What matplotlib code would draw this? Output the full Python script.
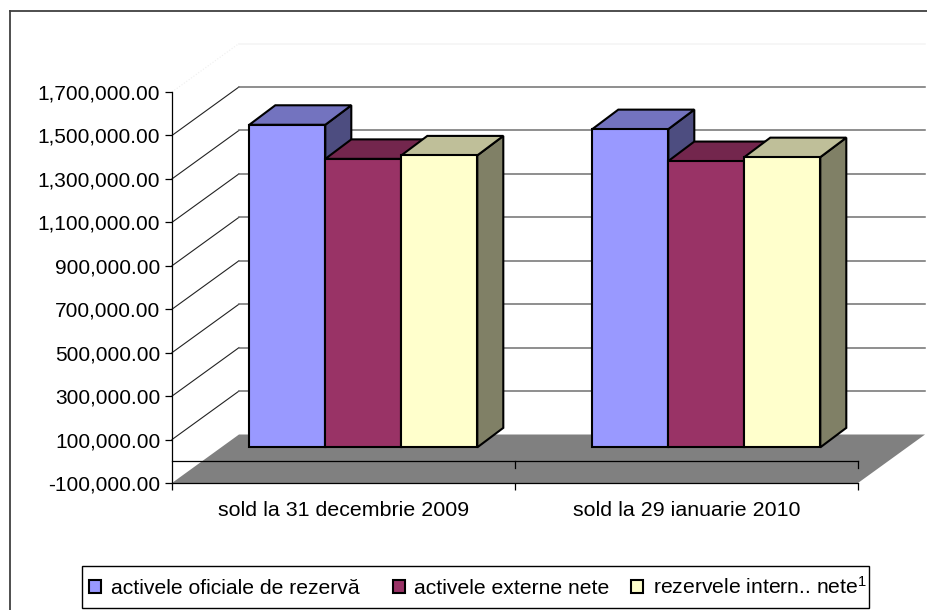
import matplotlib
matplotlib.use("Agg")
import matplotlib.pyplot as plt
from matplotlib.lines import Line2D
from matplotlib.patches import Patch, Polygon, Rectangle
import numpy as np

plt.rcParams['font.family'] = ['Liberation Sans', 'DejaVu Sans']
plt.rcParams['mathtext.default'] = 'regular'

categories = ["sold la 31 decembrie 2009", "sold la 29 ianuarie 2010"]
series = ["activele oficiale de rezervă\u00a0\u00a0\u00a0\u00a0", "activele externe nete\u00a0\u00a0", "rezervele intern.. nete$^{1}$"]
oficiale = [1485000, 1465000]
externe = [1328000, 1318000]
interne = [1344000, 1336000]
colors = ["#9999FF", "#993366", "#FFFFCC"]
yticks = np.arange(-100000, 1700001, 200000)

W, H = 928, 610
fig = plt.figure(figsize=(W / 100, H / 100), dpi=100)
ax = fig.add_axes([172 / W, 1 - 483 / H, 686 / W, 391 / H])
ax.set_xlim(0, 2)
ax.set_ylim(-100000, 1700000)
ax.patch.set_visible(False)

# pixel to data factors for the fake 3d depth
px_x = 2 / 686
px_y = 1800000 / 391
depth_x = 67 * px_x
depth_y = 48.5 * px_y


def shade(col, f):
    r, g, b = matplotlib.colors.to_rgb(col)
    return (r * f, g * f, b * f)


# walls
for v in yticks[1:]:
    top = v == yticks[-1]
    ax.plot([0, depth_x], [v, v + depth_y], color="#eeeeee" if top else "#222222",
            lw=0.8, ls=":" if top else "-", clip_on=False, zorder=1)
    ax.plot([depth_x, 2 + depth_x], [v + depth_y, v + depth_y],
            color="#f4f4f4" if top else "#707070", lw=1.1, clip_on=False, zorder=1)

# floor
floor = [(0, -100000), (depth_x, -100000 + depth_y),
         (2 + depth_x, -100000 + depth_y), (2, -100000)]
ax.add_patch(Polygon(floor, closed=True, fc="#808080", ec="none", clip_on=False, zorder=2))

# axis line at zero
ax.plot([0, 2], [0, 0], color="black", lw=0.9, clip_on=False, zorder=3)
for x in [1, 2]:
    ax.plot([x, x], [0, -7 * px_y], color="black", lw=0.9, clip_on=False, zorder=3)

# bars
bar_w = 76 * px_x
front_x = 19.8 * px_x
front_y = 0.29 * 48 * px_y
bar_dx = 26 * px_x
bar_dy = 19.5 * px_y
z = 4
for g in range(2):
    for i, vals in enumerate([oficiale, externe, interne]):
        x0 = g + 0.5 - 1.5 * bar_w + i * bar_w + front_x
        x1 = x0 + bar_w
        y0 = front_y
        y1 = y0 + vals[g]
        kw = dict(closed=True, ec="black", lw=1.5, clip_on=False, joinstyle="miter", zorder=z)
        ax.add_patch(Polygon([(x1, y0), (x1 + bar_dx, y0 + bar_dy),
                              (x1 + bar_dx, y1 + bar_dy), (x1, y1)],
                             fc=shade(colors[i], 0.5), **kw))
        ax.add_patch(Polygon([(x0, y1), (x0 + bar_dx, y1 + bar_dy),
                              (x1 + bar_dx, y1 + bar_dy), (x1, y1)],
                             fc=shade(colors[i], 0.75), **kw))
        ax.add_patch(Polygon([(x0, y0), (x1, y0), (x1, y1), (x0, y1)],
                             fc=colors[i], **kw))
        z += 1

for s in ["top", "right"]:
    ax.spines[s].set_visible(False)
for s in ["left", "bottom"]:
    ax.spines[s].set_linewidth(0.9)
    ax.spines[s].set_zorder(3)

ax.set_yticks(yticks, [f"{v:,.2f}" for v in yticks], fontsize=15)
ax.tick_params(axis="y", length=5, width=0.9, pad=3.5)
ax.set_xticks([0, 1, 2], ["", "", ""])
ax.tick_params(axis="x", which="major", length=5, width=0.9)
ax.set_xticks([0.5, 1.5], categories, minor=True, fontsize=15.4)
ax.tick_params(axis="x", which="minor", length=0, pad=13)

# outer chart border, only left and top are inside the picture
fig.add_artist(Line2D([10 / W, 10 / W], [0, 1 - 11 / H], color="#404040", lw=1.3))
fig.add_artist(Line2D([10 / W, 1], [1 - 11 / H, 1 - 11 / H], color="#404040", lw=1.3))

# legend box drawn apart, the legend padding is the same in x and y
fig.add_artist(Rectangle((82 / W, 1 - 608 / H), 787 / W, 42 / H, transform=fig.transFigure,
                         fc="white", ec="black", lw=1.0))
handles = [Patch(fc=c, ec="black", lw=1.5) for c in colors]
leg = fig.legend(handles, series, loc="center",
                 bbox_to_anchor=(89 / W, 1 - 607 / H, 778 / W, 40 / H),
                 ncol=3, fontsize=15.2, frameon=False, borderaxespad=0, borderpad=0,
                 handlelength=0.57, handleheight=0.6, handletextpad=0.45,
                 columnspacing=0.5, mode="expand")
leg.set_zorder(10)

fig.savefig("out.png", dpi=100)
